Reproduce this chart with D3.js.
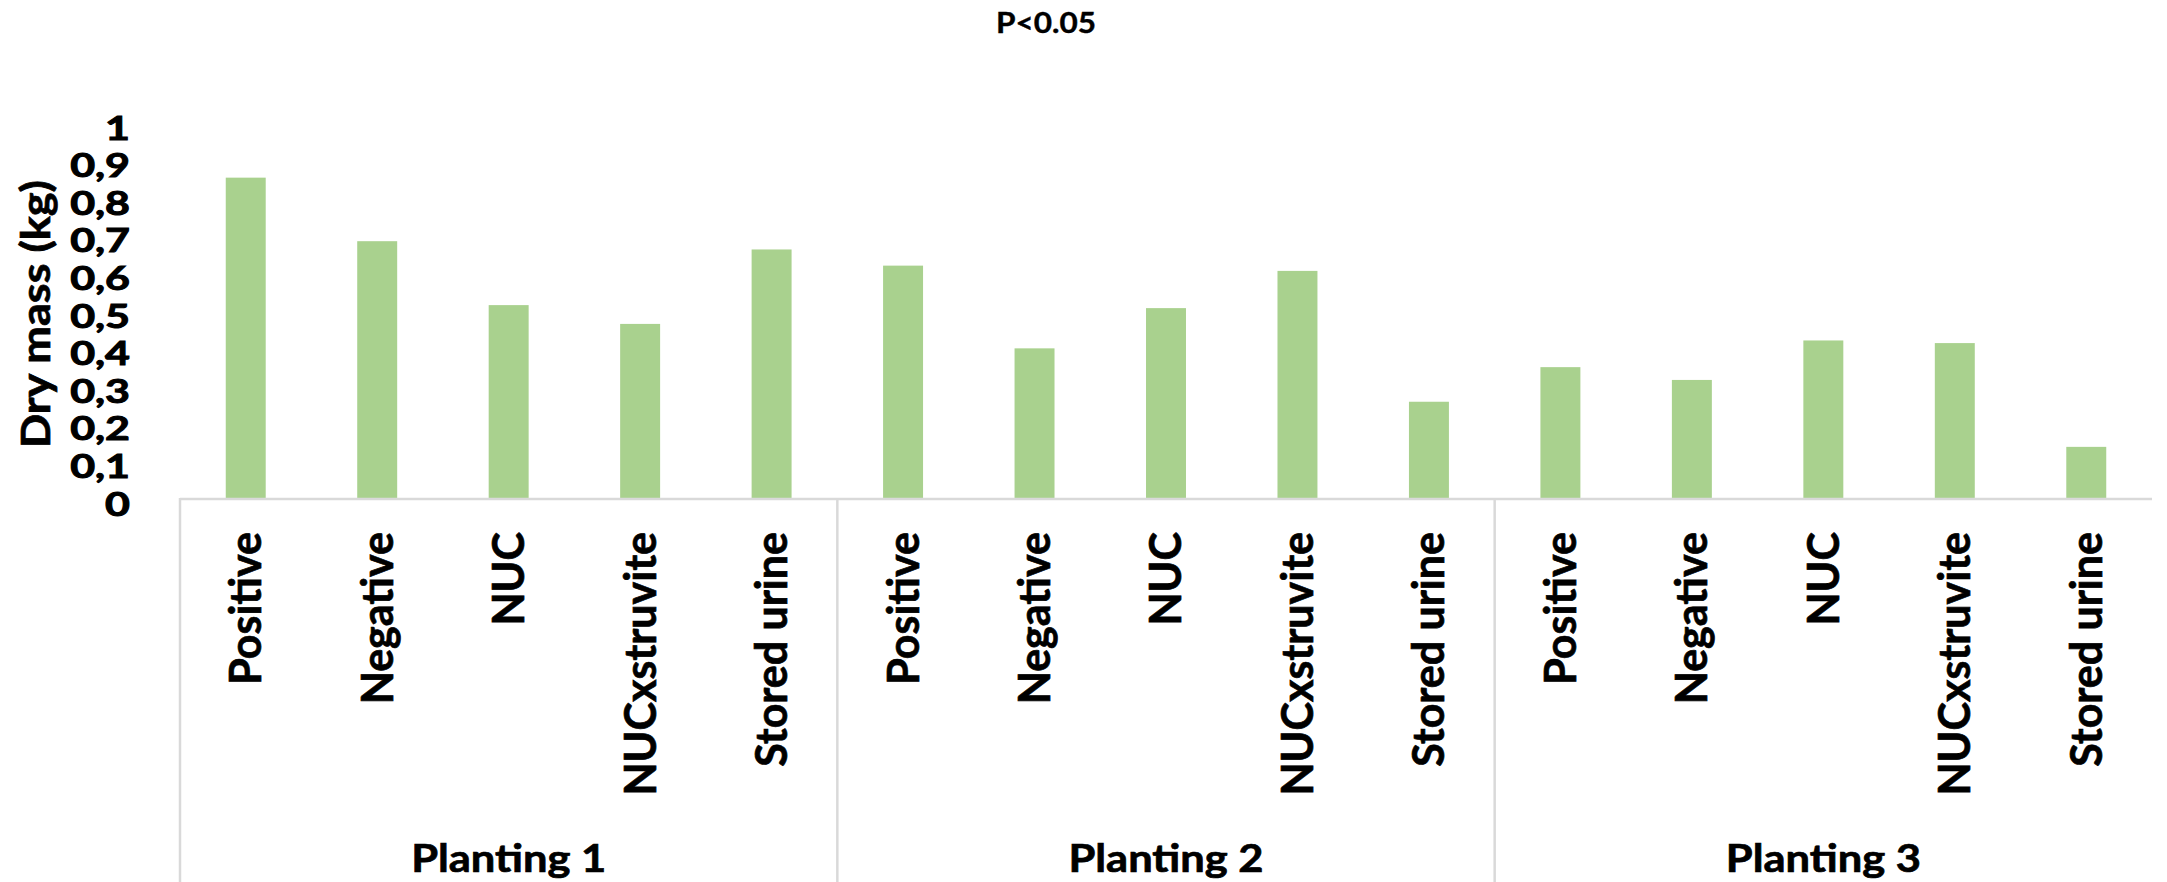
<!DOCTYPE html>
<html>
<head>
<meta charset="utf-8">
<script src="https://cdn.jsdelivr.net/npm/d3@7"></script>
<style>
  html, body { margin: 0; padding: 0; background: #ffffff; }
  svg { display: block; }
  text { font-family: Lato, "Open Sans", "DejaVu Sans", sans-serif; font-weight: 700; fill: #000; stroke: #000; stroke-width: 0.7px; }
</style>
</head>
<body>
<svg id="chart" width="2167" height="882"></svg>
<script>
// Dry mass per treatment, grouped by planting
const plantings = ["Planting 1", "Planting 2", "Planting 3"];
const treatments = ["Positive", "Negative", "NUC", "NUCxstruvite", "Stored urine"];
const planting1 = [0.852, 0.683, 0.513, 0.463, 0.661];
const planting2 = [0.618, 0.398, 0.505, 0.604, 0.256];
const planting3 = [0.348, 0.314, 0.419, 0.412, 0.136];
const yTickValues = [0, 0.1, 0.2, 0.3, 0.4, 0.5, 0.6, 0.7, 0.8, 0.9, 1];
const yTickLabels = ["0", "0,1", "0,2", "0,3", "0,4", "0,5", "0,6", "0,7", "0,8", "0,9", "1"];
const chartTitle = "P<0.05";
const yTitle = "Dry mass (kg)";

const seriesByPlanting = [planting1, planting2, planting3];
const rows = [];
plantings.forEach((p, gi) => {
  treatments.forEach((t, ti) => {
    rows.push({ key: p + "|" + t, planting: p, treatment: t, value: seriesByPlanting[gi][ti] });
  });
});

const svg = d3.select("#chart");
const plot = { left: 180, right: 2152, top: 122, bottom: 498 };
const barColor = "#a9d18e";
const lineColor = "#d9d9d9";

const pInner = 0.696;
const x = d3.scaleBand()
  .domain(rows.map(d => d.key))
  .range([plot.left, plot.right])
  .paddingInner(pInner)
  .paddingOuter(pInner / 2);

const y = d3.scaleLinear().domain([0, 1]).range([plot.bottom, plot.top]);

// Title
svg.append("text")
  .attr("x", 1046).attr("y", 33)
  .attr("text-anchor", "middle")
  .style("font-size", "29px")
  .style("stroke-width", "0.4px")
  .attr("textLength", 100).attr("lengthAdjust", "spacingAndGlyphs")
  .text(chartTitle);

// Y tick labels
svg.append("g").selectAll("text")
  .data(yTickValues)
  .join("text")
  .attr("transform", d => `translate(130,${y(d) + 17.5}) scale(1.3,1)`)
  .attr("text-anchor", "end")
  .style("font-size", "33px")
  .style("stroke-width", "1px")
  .text((d, i) => yTickLabels[i]);

// Y axis title
svg.append("text")
  .attr("transform", "translate(50,314) rotate(-90)")
  .attr("text-anchor", "middle")
  .style("font-size", "40px")
  .attr("textLength", 268).attr("lengthAdjust", "spacingAndGlyphs")
  .text(yTitle);

// Bars
svg.append("g").selectAll("rect")
  .data(rows)
  .join("rect")
  .attr("x", d => x(d.key))
  .attr("y", d => y(d.value))
  .attr("width", x.bandwidth())
  .attr("height", d => y(0) - y(d.value))
  .attr("fill", barColor);

// Category axis line
svg.append("line")
  .attr("x1", plot.left).attr("x2", plot.right)
  .attr("y1", y(0) + 1).attr("y2", y(0) + 1)
  .attr("stroke", lineColor).attr("stroke-width", 2.5);

// Group separators (left edge and between plantings)
const step = x.step();
const offset = (step - x.bandwidth()) / 2;
const sepX = plantings.map(p => x(p + "|" + treatments[0]) - offset);
svg.append("g").selectAll("line")
  .data(sepX)
  .join("line")
  .attr("x1", d => d).attr("x2", d => d)
  .attr("y1", y(0)).attr("y2", 882)
  .attr("stroke", lineColor).attr("stroke-width", 2.5);

// Treatment labels, rotated
svg.append("g").selectAll("text")
  .data(rows)
  .join("text")
  .attr("transform", d => `translate(${x(d.key) + x.bandwidth() / 2},532) rotate(-90)`)
  .attr("text-anchor", "end")
  .attr("dy", "0.36em")
  .style("font-size", "43px")
  .text(d => d.treatment);

// Planting labels
svg.append("g").selectAll("text")
  .data(plantings)
  .join("text")
  .attr("x", (p, i) => sepX[i] + step * treatments.length / 2)
  .attr("y", 872)
  .attr("text-anchor", "middle")
  .style("font-size", "39px")
  .attr("textLength", 195).attr("lengthAdjust", "spacingAndGlyphs")
  .text(p => p);
</script>
</body>
</html>
